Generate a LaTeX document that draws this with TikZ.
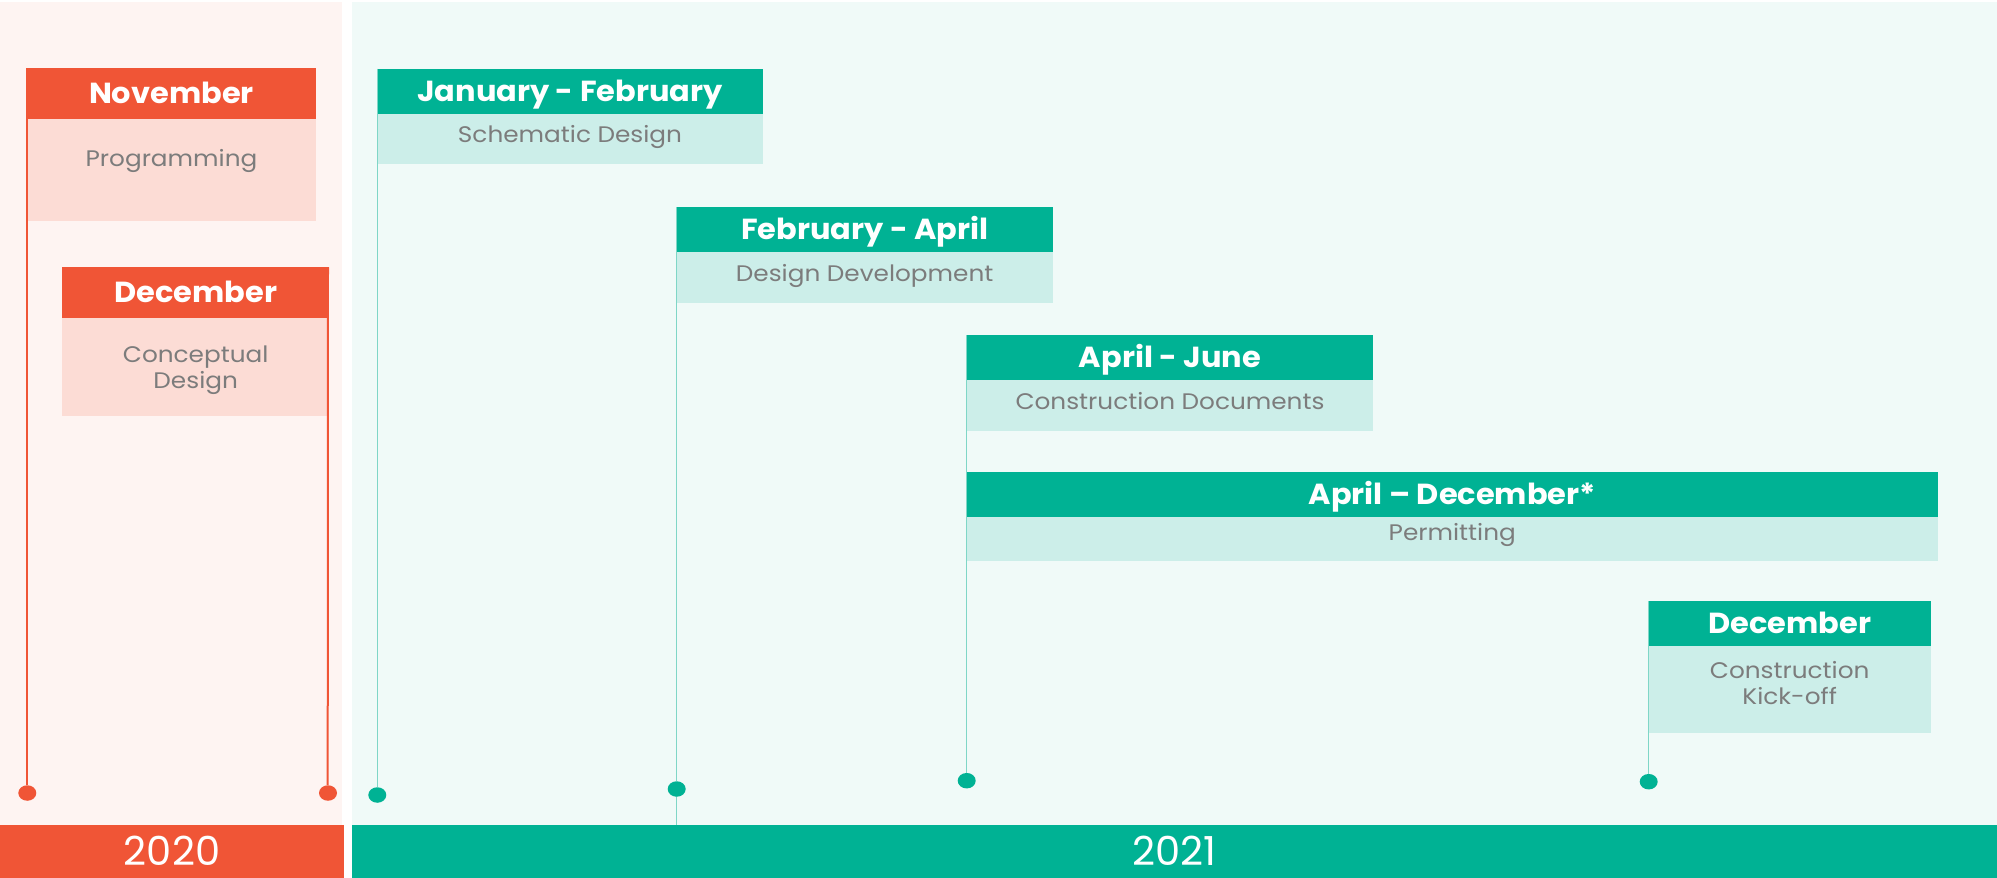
\documentclass[tikz,border=0pt]{standalone}
\usepackage{fontspec}
\setmainfont{Poppins}
\newfontfamily\headfont{Poppins}[FakeStretch=1.05]
\newfontfamily\bodyfont{Poppins}[FakeStretch=1.1]
\usetikzlibrary{shapes.geometric}
\definecolor{oHead}{HTML}{F05536}
\definecolor{oBody}{HTML}{FCDCD5}
\definecolor{oPanel}{HTML}{FEF4F2}
\definecolor{tHead}{HTML}{00B294}
\definecolor{tBody}{HTML}{CCEEE9}
\definecolor{tPanel}{HTML}{F0FAF8}
\definecolor{tLine}{HTML}{7FD6C7}
\definecolor{bodyGray}{HTML}{7C7C7C}
\begin{document}
\begin{tikzpicture}[x=1pt,y=-1pt,
  panel/.style={anchor=north west, inner sep=0pt, outer sep=0pt},
  head/.style={anchor=north west, inner sep=0pt, outer sep=0pt, text=white,
    font=\headfont\bfseries\fontsize{29}{32}\selectfont, text height=20pt, text depth=0pt},
  ohead/.style={head, fill=oHead, minimum height=51pt},
  thead/.style={head, fill=tHead, minimum height=45pt},
  obody/.style={anchor=north west, inner sep=0pt, outer sep=0pt, fill=oBody},
  tbody/.style={anchor=north west, inner sep=0pt, outer sep=0pt, fill=tBody},
  btext/.style={anchor=base, inner sep=0pt, text=bodyGray, align=center,
    font=\bodyfont\fontsize{22.5}{26}\selectfont},
  year/.style={anchor=base, inner sep=0pt, text=white, font=\fontsize{40}{42}\selectfont},
  odot/.style={ellipse, fill=oHead, inner sep=0pt, minimum width=18pt, minimum height=15.5pt},
  tdot/.style={ellipse, fill=tHead, inner sep=0pt, minimum width=18pt, minimum height=15.5pt},
  oline/.style={draw=oHead, line width=2pt},
  tline/.style={draw=tLine, line width=1.5pt}]
\useasboundingbox (0,0) rectangle (1997,878);
\fill[white] (0,0) rectangle (1997,878);

% background panels and year bars
\node[panel, fill=oPanel, minimum width=342pt, minimum height=823pt] (p20) at (0,2.3) {};
\node[panel, fill=tPanel, minimum width=1645pt, minimum height=823pt] (p21) at (352,2.3) {};
\node[panel, fill=oHead, minimum width=344pt, minimum height=53pt] (bar20) at (0,825) {};
\node[panel, fill=tHead, minimum width=1645pt, minimum height=53pt] (bar21) at (352,825) {};
\node[year] (y20) at (172,865) {2020};
\node[year] (y21) at (1174.5,865) {2021};

% 2020 milestones
\node[ohead, minimum width=288.4pt] (h1) at (27.3,68.3) {November};
\node[obody, minimum width=288.4pt, minimum height=101.4pt] (b1) at (h1.south west) {};
\node[btext] (t1) at (171.5,166) {Programming};

\node[ohead, minimum width=267.3pt] (h2) at (62,267.3) {December};
\node[obody, minimum width=267.3pt, minimum height=97.7pt] (b2) at (h2.south west) {};
\node[btext] (t2) at (195.7,388) {Conceptual\\Design};

% 2021 milestones
\node[thead, minimum width=385.4pt] (h3) at (377.3,68.7) {January - February};
\node[tbody, minimum width=385.4pt, minimum height=50.7pt] (b3) at (h3.south west) {};
\node[btext] (t3) at (570,142) {Schematic Design};

\node[thead, minimum width=376pt] (h4) at (676.7,207.3) {February - April};
\node[tbody, minimum width=376pt, minimum height=50.4pt] (b4) at (h4.south west) {};
\node[btext] (t4) at (864.7,281) {Design Development};

\node[thead, minimum width=406.6pt] (h5) at (966.7,335.3) {April - June};
\node[tbody, minimum width=406.6pt, minimum height=50.3pt] (b5) at (h5.south west) {};
\node[btext] (t5) at (1170,409) {Construction Documents};

\node[thead, minimum width=971.3pt] (h6) at (966.7,472.3) {April – December*};
\node[tbody, minimum width=971.3pt, minimum height=43.7pt] (b6) at (h6.south west) {};
\node[btext] (t6) at (1452.3,540) {Permitting};

\node[thead, minimum width=282pt] (h7) at (1648.7,601.3) {December};
\node[tbody, minimum width=282pt, minimum height=86.7pt] (b7) at (h7.south west) {};
\node[btext] (t7) at (1789.7,704) {Construction\\Kick-off};

% date markers
\node[odot] (d1) at (27.3,793) {};
\node[odot] (d2) at (328,793) {};
\node[tdot] (d3) at (377.3,795) {};
\node[tdot] (d4) at (676.7,789) {};
\node[tdot] (d5) at (966.7,780.7) {};
\node[tdot] (d7) at (1648.7,781.7) {};
\coordinate (e4) at (676.7,825);

% stems from each milestone down to its marker
\draw[oline] (h1.north west) -- (d1.north);
\draw[oline] ([xshift=-1.3pt]h2.north east) -- ([xshift=-0.3pt]d2.north);
\draw[tline] (h3.north west) -- (d3.north);
\draw[tline] (h4.north west) -- (d4.north);
\draw[tline] (d4.south) -- (e4);
\draw[tline] (h5.north west) -- (d5.north);
\draw[tline] (h7.north west) -- (d7.north);
\end{tikzpicture}
\end{document}
